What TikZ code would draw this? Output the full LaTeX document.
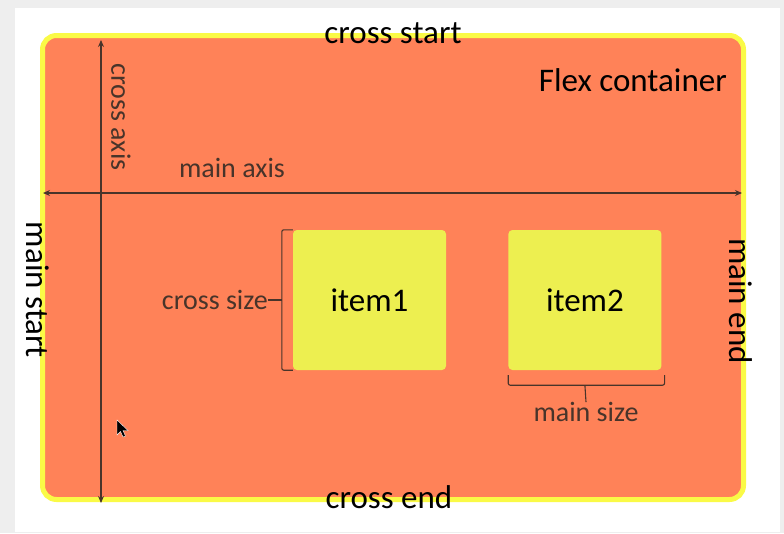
\documentclass[tikz,border=0pt]{standalone}
\usepackage{fontspec}
\setmainfont{Carlito}
\usetikzlibrary{arrows.meta, positioning}

\definecolor{flexorange}{RGB}{255,130,88}
\definecolor{frameyellow}{RGB}{250,250,70}
\definecolor{itemyellow}{RGB}{237,239,80}
\definecolor{labelgray}{RGB}{72,52,42}
\definecolor{pagegray}{RGB}{238,238,238}

\begin{document}
\begin{tikzpicture}[
    x=1pt, y=-1pt,
    node distance=62pt,
    container/.style={rectangle, rounded corners=14pt, draw=frameyellow, line width=5pt, fill=flexorange, minimum width=701pt, minimum height=464pt, inner sep=0pt},
    item/.style={rectangle, rounded corners=4pt, fill=itemyellow, minimum width=153pt, minimum height=140pt, inner sep=0pt, font=\fontsize{33}{36}\selectfont},
    big/.style={inner sep=0pt, font=\fontsize{33}{36}\selectfont},
    small/.style={inner sep=0pt, text=labelgray, font=\fontsize{28}{30}\selectfont},
    axis/.style={{Stealth[length=7pt,width=6pt]}-{Stealth[length=7pt,width=6pt]}, line width=1.4pt, draw=labelgray},
    bracket/.style={line width=1.1pt, draw=labelgray, rounded corners=2pt}
  ]
    \path[use as bounding box, fill=pagegray] (0,0) rectangle (784,533);
    \fill[white] (15,8) rectangle (780,532);

    \node[container] (box) at (393,267.5) {};

    % axes
    \coordinate (mainL) at (43,193);
    \coordinate (mainR) at (742,193);
    \coordinate (crossT) at (101,40);
    \coordinate (crossB) at (101,503);
    \draw[axis] (mainL) -- (mainR);
    \draw[axis] (crossT) -- (crossB);

    \node[small, rotate=-90] (crossaxis) at (121,117) {cross axis};
    \node[small] (mainaxis) at (232,168) {main axis};

    \node[big] (crossstart) at (393,33) {cross start};
    \node[big] (crossend) at (389,497) {cross end};
    \node[big, anchor=east] (title) at (727,80) {Flex container};
    \node[big, rotate=-90] (mainstart) at (38,290) {main start};
    \node[big, rotate=-90] (mainend) at (741,301) {main end};

    % items
    \node[item] (item1) at (369.5,300) {item1};
    \node[item, right=of item1] (item2) {item2};

    % cross size
    \coordinate (csT) at ([xshift=-11pt]item1.north west);
    \coordinate (csB) at ([xshift=-11pt]item1.south west);
    \coordinate (csM) at ([xshift=-11pt]item1.west);
    \draw[bracket] (item1.north west) -- (csT) -- (csB) -- (item1.south west);
    \node[small, anchor=east] (crosssize) at (268,300) {cross size};
    \draw[bracket] (csM) -- (crosssize.east);

    % main size
    \coordinate (msL) at ([yshift=-15pt]item2.south west);
    \coordinate (msR) at ([xshift=3pt, yshift=-15pt]item2.south east);
    \coordinate (msM) at ([yshift=-15pt]item2.south);
    \draw[bracket] ([yshift=-5pt]item2.south west) -- (msL) -- (msR) -- ([xshift=3pt, yshift=-5pt]item2.south east);
    \node[small] (mainsize) at (586,412) {main size};
    \draw[bracket] (msM) -- (mainsize.north);

    % mouse pointer
    \filldraw[black, draw=white, line width=0.4pt] (117,420) -- (117,435) -- (120.5,431.5) -- (123,437) -- (125.5,436) -- (123,430.5) -- (128,430.5) -- cycle;
  \end{tikzpicture}
\end{document}
